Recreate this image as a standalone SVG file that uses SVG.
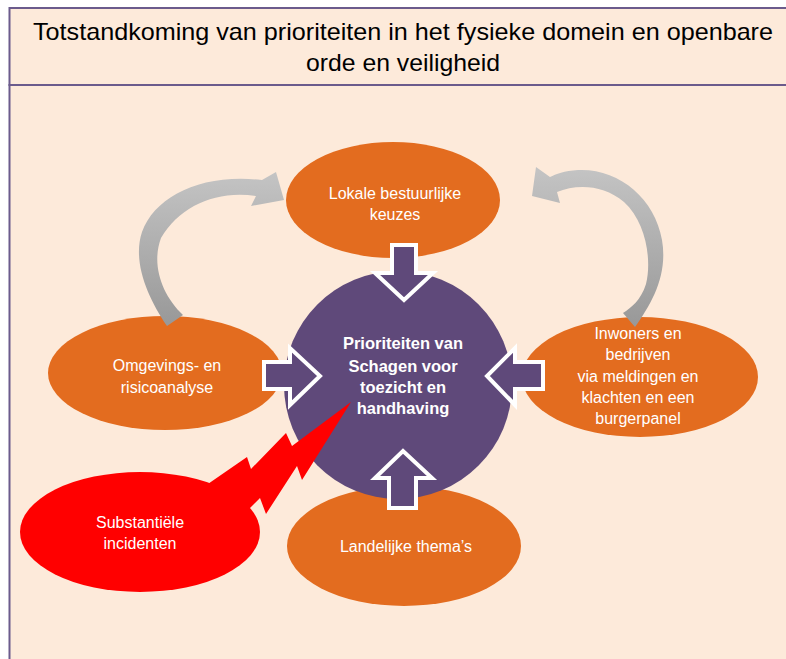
<svg xmlns="http://www.w3.org/2000/svg" width="786" height="659" viewBox="0 0 786 659">
  <style>
    .frame { fill: #FDEADA; stroke: #6B5B8C; stroke-width: 2; }
    .orange { fill: #E36C1F; }
    .core { fill: #5F497A; }
    .burst { fill: #FF0000; }
    .block { fill: #5F497A; stroke: #FFFFFF; stroke-width: 4; stroke-linejoin: miter; }
    .loop { fill: url(#greyShade); }
    .title { font-family: "Liberation Sans", Arial, sans-serif; font-size: 24px; fill: #000000; text-anchor: middle; }
    .lbl { font-family: "Liberation Sans", Arial, sans-serif; font-size: 16px; fill: #FFFFFF; text-anchor: middle; }
    .lblb { font-family: "Liberation Sans", Arial, sans-serif; font-size: 16.5px; font-weight: bold; fill: #FFFFFF; text-anchor: middle; }
  </style>
  <defs>
    <linearGradient id="greyShade" x1="0" y1="0" x2="0" y2="1">
      <stop offset="0" stop-color="#C4C4C4"/>
      <stop offset="1" stop-color="#989898"/>
    </linearGradient>
  </defs>

  <rect x="0" y="0" width="786" height="659" fill="#FFFFFF"/>

  <!-- panel and title bar -->
  <g id="panel">
    <rect class="frame" x="9.5" y="85" width="800" height="600"/>
    <rect class="frame" x="9.5" y="8" width="800" height="77"/>
  </g>
  <g id="title">
    <text class="title" x="403" y="40" textLength="740" lengthAdjust="spacingAndGlyphs">Totstandkoming van prioriteiten in het fysieke domein en openbare</text>
    <text class="title" x="403" y="71" textLength="194" lengthAdjust="spacingAndGlyphs">orde en veiligheid</text>
  </g>

  <!-- nodes -->
  <g id="node-lokaal">
    <ellipse class="orange" cx="393" cy="200" rx="107" ry="58"/>
    <text class="lbl" x="395" y="199">Lokale bestuurlijke</text>
    <text class="lbl" x="395" y="220">keuzes</text>
  </g>
  <g id="node-omgeving">
    <ellipse class="orange" cx="165" cy="373" rx="117" ry="57"/>
    <text class="lbl" x="167" y="371">Omgevings- en</text>
    <text class="lbl" x="167" y="393">risicoanalyse</text>
  </g>
  <g id="node-inwoners">
    <ellipse class="orange" cx="640" cy="377" rx="118" ry="60"/>
    <text class="lbl" x="638" y="339">Inwoners en</text>
    <text class="lbl" x="638" y="360">bedrijven</text>
    <text class="lbl" x="638" y="382">via meldingen en</text>
    <text class="lbl" x="638" y="403">klachten en een</text>
    <text class="lbl" x="638" y="424">burgerpanel</text>
  </g>
  <g id="node-landelijk">
    <ellipse class="orange" cx="404" cy="546" rx="117" ry="60"/>
    <text class="lbl" x="406" y="552">Landelijke thema’s</text>
  </g>
  <g id="node-prioriteiten">
    <circle class="core" cx="398" cy="385" r="114"/>
    <text class="lblb" x="403" y="349">Prioriteiten van</text>
    <text class="lblb" x="403" y="372">Schagen voor</text>
    <text class="lblb" x="403" y="393">toezicht en</text>
    <text class="lblb" x="403" y="414">handhaving</text>
  </g>
  <g id="node-incidenten">
    <ellipse class="burst" cx="140" cy="532" rx="120" ry="60"/>
    <polygon class="burst" points="205,486 247,457 251,469 286,433 292,446 351,402 302,480 297,466 266,514 260,498 248,510"/>
    <text class="lbl" x="140" y="528">Substantiële</text>
    <text class="lbl" x="140" y="549">incidenten</text>
  </g>

  <!-- connectors -->
  <g id="connectors">
    <!-- feedback loops -->
    <path class="loop" d="M167,326 C148,298 132,262 142,232 C155,196 202,173 262,180 L276,172 L284,200 L251,206 L256,196 C216,190 180,206 161,238 C151,265 162,295 183,315 Z"/>
    <path class="loop" d="M635,327 C652,303 668,275 662,240 C655,198 618,168 578,170 C564,171 556,174 550,177 L536,167 L532,196 L560,203 L557,192 C576,184 603,184 624,202 C646,222 652,260 646,284 C641,300 631,308 623,313 Z"/>
    <!-- block arrows into the centre -->
    <polygon class="block" points="392,245 416,245 416,273 433,273 404,300 375,273 392,273"/>
    <polygon class="block" points="264,362 290,362 290,348 320,376 290,405 290,389 264,389"/>
    <polygon class="block" points="543,362 515,362 515,348 487,376 515,405 515,389 543,389"/>
    <polygon class="block" points="389,508 389,478 375,478 403,451 432,478 416,478 416,508"/>
  </g>
</svg>
